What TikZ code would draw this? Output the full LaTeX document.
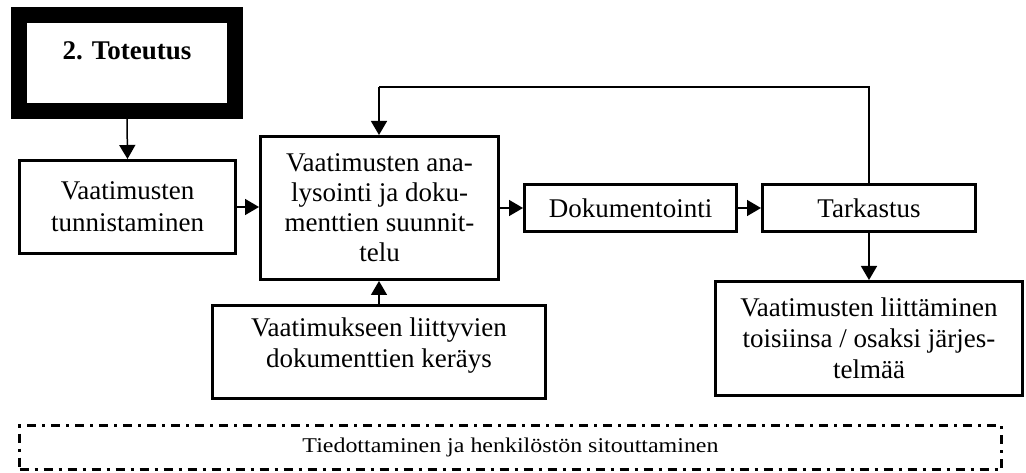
\documentclass[tikz,border=0pt]{standalone}
\usepackage{fontspec}
\setmainfont{Liberation Serif}
\usetikzlibrary{arrows.meta}
\begin{document}
\begin{tikzpicture}[x=1pt,y=-1pt,
  stepbox/.style={draw,line width=3pt,inner sep=0pt,align=center,
    font=\fontsize{27}{30}\selectfont},
  conn/.style={line width=1.5pt,-{Triangle[length=14pt,width=16pt]}},
  plain/.style={line width=1.5pt}]
\useasboundingbox (0,0) rectangle (1026,473);

% phase header with heavy frame
\node[draw,line width=16pt,minimum width=216pt,minimum height=96pt,inner sep=0pt] (phase) at (127,63) {};
\node[anchor=base,font=\fontsize{27}{30}\selectfont\bfseries] (phasetxt) at (127,60) {2. Toteutus};

% process steps
\node[stepbox,minimum width=216pt,minimum height=93pt,font=\fontsize{27}{32}\selectfont] (ident) at (127.5,207) {Vaatimusten\\tunnistaminen};
\node[stepbox,minimum width=238pt,minimum height=143pt] (anal) at (379.5,208) {Vaatimusten ana-\\lysointi ja doku-\\menttien suunnit-\\telu};
\node[stepbox,minimum width=212pt,minimum height=47pt] (dok) at (630.5,208) {Dokumentointi};
\node[stepbox,minimum width=213pt,minimum height=47pt] (tark) at (869,208) {Tarkastus};
\node[stepbox,minimum width=333pt,minimum height=93pt] (ker) at (379,352) {};
\node[align=center,inner sep=0pt,font=\fontsize{27}{31}\selectfont] (kertxt) at (379,346) {Vaatimukseen liittyvien\\dokumenttien keräys};
\node[stepbox,minimum width=307pt,minimum height=114pt,font=\fontsize{27}{31}\selectfont] (liit) at (869,338.5) {Vaatimusten liittäminen\\toisiinsa / osaksi järjes-\\telmää};

% connectors
\draw[conn] (phase.south) -- (ident.north);
\draw[conn] (ident.east) -- (ident.east -| anal.west);
\draw[conn] (anal.east |- dok.west) -- (dok.west);
\draw[conn] (dok.east) -- (tark.west);
\draw[conn] (tark.south) -- (liit.north);
\draw[conn] (ker.north) -- (ker.north |- anal.south);
\coordinate (fbR) at (869,87);
\coordinate (fbL) at (379,87);
\draw[plain] (tark.north) -- (fbR) -- (fbL);
\draw[conn] (fbL) -- (fbL |- anal.north);

% dash-dotted frame along the bottom
\node[draw,line width=3pt,dash pattern=on 9pt off 6pt on 3pt off 6pt,
  minimum width=982pt,minimum height=44pt,inner sep=0pt,
  font=\fontsize{21}{24}\selectfont] (info) at (510.5,447.5)
  {\scalebox{1.14}[1]{Tiedottaminen ja henkilöstön sitouttaminen}};
\end{tikzpicture}
\end{document}
